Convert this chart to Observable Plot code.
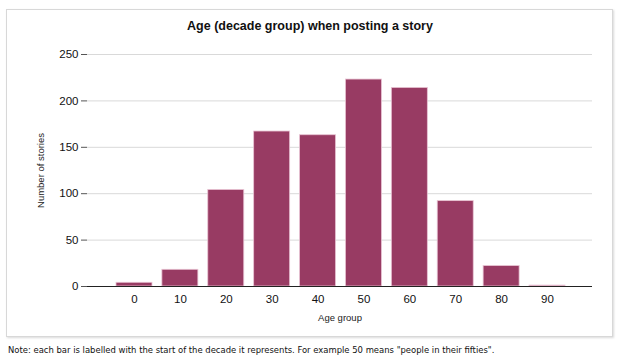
<!DOCTYPE html>
<html>
<head>
<meta charset="utf-8">
<script src="https://cdn.jsdelivr.net/npm/d3@7"></script>
<script src="https://cdn.jsdelivr.net/npm/@observablehq/plot@0.6"></script>
<style>
  html, body { margin: 0; padding: 0; background: #fff; }
  #wrap { position: relative; width: 620px; height: 363px; overflow: hidden; font-family: "Liberation Sans", Arial, sans-serif; }
  #card { position: absolute; left: 6px; top: 9px; width: 607px; height: 328px; border: 1px solid #d8d8d8; box-shadow: 1px 1px 2px rgba(0,0,0,0.15); box-sizing: border-box; background: #fff; }
  #title { position: absolute; left: 0; width: 620px; top: 19px; text-align: center; font-weight: bold; font-size: 12.5px; color: #111; }
  #chart { position: absolute; left: 0; top: 0; }
  #note { position: absolute; left: 8px; top: 344px; font-family: "DejaVu Sans Condensed", "DejaVu Sans", sans-serif; font-size: 9.4px; color: #111; white-space: nowrap; }
</style>
</head>
<body>
<div id="wrap">
  <div id="card"></div>
  <div id="chart"></div>
  <div id="title">Age (decade group) when posting a story</div>
  <div id="note">Note: each bar is labelled with the start of the decade it represents. For example 50 means "people in their fifties".</div>
</div>
<script>
const ageGroups = ["0", "10", "20", "30", "40", "50", "60", "70", "80", "90"];
const stories = [4, 18, 104, 167, 163, 223, 214, 92, 22, 1];
const yTicks = [0, 50, 100, 150, 200, 250];
const titleText = "Age (decade group) when posting a story";
const xLabel = "Age group";
const yLabel = "Number of stories";

const data = ageGroups.map((g, i) => ({group: g, count: stories[i]}));

const plot = Plot.plot({
  width: 620,
  height: 363,
  marginTop: 54,
  marginBottom: 77,
  marginLeft: 87,
  marginRight: 28,
  style: {fontFamily: "'Liberation Sans', Arial, sans-serif", background: "transparent", color: "#111"},
  x: {type: "band", domain: ageGroups, paddingInner: 0.216, paddingOuter: 0, round: false, insetLeft: 29, insetRight: 27},
  y: {domain: [0, 250]},
  marks: [
    Plot.gridY(yTicks, {stroke: "#d9d9d9", strokeOpacity: 1, strokeWidth: 1}),
    Plot.barY(data, {x: "group", y: "count", fill: "#983b63", stroke: "#e8c3d3", strokeWidth: 0.8}),
    Plot.axisY(yTicks, {tickSize: 6, tickPadding: 3, fontSize: 11.5, label: null, stroke: "#555"}),
    Plot.axisX({tickSize: 0, tickPadding: 8, fontSize: 11.5, label: null}),
    Plot.ruleY([0], {stroke: "#222", strokeWidth: 1}),
    Plot.ruleX([0], {frameAnchor: "left", stroke: "#222", strokeWidth: 1}),
    Plot.text([yLabel], {frameAnchor: "left", textAnchor: "middle", dx: -47, rotate: -90, fontSize: 9.5, fill: "#222"}),
    Plot.text([xLabel], {frameAnchor: "bottom", dy: 34, fontSize: 9.5, fill: "#222"})
  ]
});
document.getElementById("chart").appendChild(plot);
</script>
</body>
</html>
